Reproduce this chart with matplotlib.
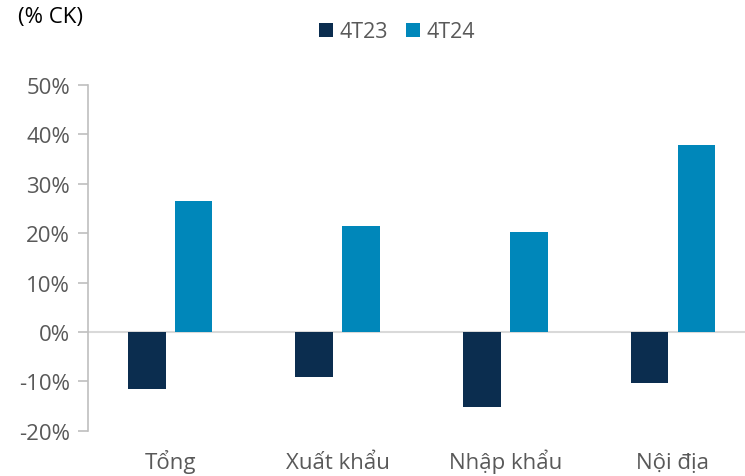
import matplotlib
matplotlib.use("Agg")
import matplotlib.pyplot as plt
import numpy as np

categories = ["Tổng", "Xuất khẩu", "Nhập khẩu", "Nội địa"]
series_names = ["4T23", "4T24"]
v_4t23 = [-11.6, -9.2, -15.1, -10.3]
v_4t24 = [26.6, 21.5, 20.3, 37.9]
yticks = [-20, -10, 0, 10, 20, 30, 40, 50]

plt.rcParams['font.family'] = ['Open Sans', 'Noto Sans', 'DejaVu Sans']

W, H = 745, 477
fig = plt.figure(figsize=(W/100, H/100), dpi=100)
ax = fig.add_axes([88/W, (H-431.7)/H, (745-88)/W, (431.7-86)/H])

x = np.arange(len(categories))
bw = 0.225
off = 0.14
c1, c2 = "#0b2d4f", "#0087ba"
ax.bar(x - off, v_4t23, bw, color=c1, label=series_names[0], zorder=2)
ax.bar(x + off, v_4t24, bw, color=c2, label=series_names[1], zorder=2)

ax.set_xlim(-0.49, 3.43)
ax.set_ylim(-20, 50)
ax.axhline(0, color="#d9d9d9", lw=1.5, zorder=1)
ax.set_yticks(yticks)
ax.set_yticklabels([f"{t}%" for t in yticks], color="#595959", fontsize=16)
ax.set_xticks(x)
ax.set_xticklabels(categories, color="#595959", fontsize=16)
for lab in ax.get_xticklabels():
    lab.set_va("baseline")
ax.tick_params(axis='x', length=0, pad=26.9)
ax.tick_params(axis='y', length=7, color="#bfbfbf", width=1.2, pad=6)
for s in ["top", "right", "bottom"]:
    ax.spines[s].set_visible(False)
ax.spines["left"].set_color("#bfbfbf")
ax.spines["left"].set_linewidth(1.2)

fig.text(18/W, 1 - 18/H, "(% CK)", fontsize=16, color="#000000", va="center", ha="left")
leg = fig.legend(loc="center", bbox_to_anchor=(397/W, 1 - 33/H), ncol=2, frameon=False,
                 fontsize=15.5, handlelength=0.65, handleheight=0.65, handletextpad=0.3,
                 columnspacing=0.85, labelcolor="#595959")

fig.savefig("out.png", dpi=100)
